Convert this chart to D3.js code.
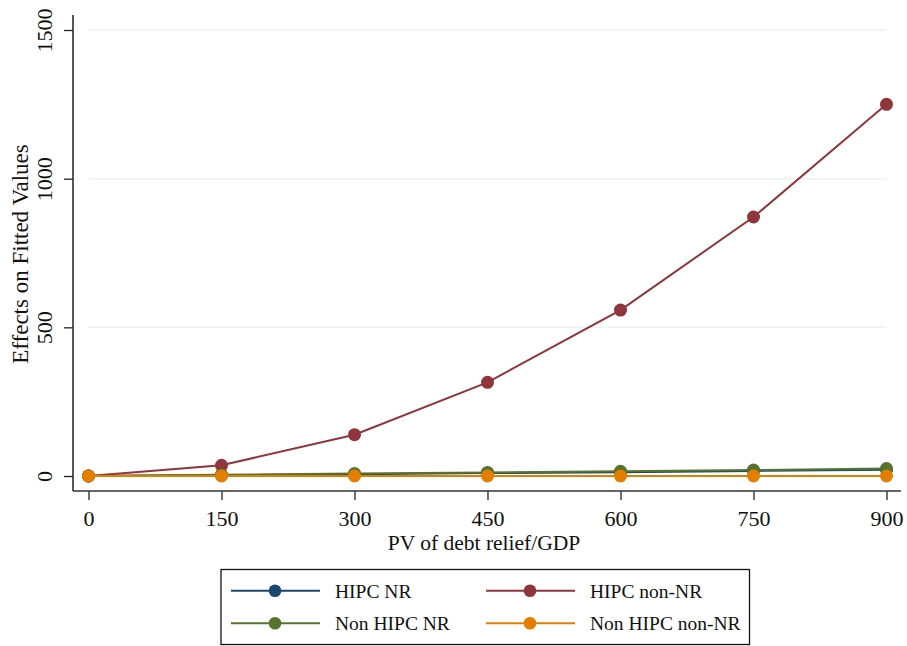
<!DOCTYPE html>
<html>
<head>
<meta charset="utf-8">
<script src="https://cdn.jsdelivr.net/npm/d3@7"></script>
<style>
  html, body { margin: 0; padding: 0; background: #fff; }
  svg { display: block; font-family: "Liberation Serif", "Times New Roman", serif; }
</style>
</head>
<body>
<svg id="chart" width="907" height="646"></svg>
<script>
// Debt relief levels on the horizontal axis
const reliefLevels = [0, 150, 300, 450, 600, 750, 900];
const xTickLabels = ["0", "150", "300", "450", "600", "750", "900"];
const yTickValues = [0, 500, 1000, 1500];
const yTickLabels = ["0", "500", "1000", "1500"];

// Effects on fitted values by country group
const hipcNR = [0, 3, 6, 10, 13, 17, 21];
const hipcNonNR = [0, 36, 139, 315, 558, 871, 1250];
const nonHipcNR = [0, 4, 8, 12, 16, 20, 25];
const nonHipcNonNR = [0, 0, 0, 0, 0, 0, 0];

const seriesNames = ["HIPC NR", "HIPC non-NR", "Non HIPC NR", "Non HIPC non-NR"];
const seriesValues = [hipcNR, hipcNonNR, nonHipcNR, nonHipcNonNR];
const seriesColors = ["#1a476f", "#90353b", "#55752f", "#e37e00"];

const svg = d3.select("#chart");

const x = d3.scaleLinear().domain([0, 900]).range([88.5, 886.5]);
const y = d3.scaleLinear().domain([0, 1500]).range([476, 30]);

// Plot region edges
const plotLeft = 73, plotRight = 901, plotTop = 15, plotBottom = 491;

// Horizontal gridlines
svg.append("g")
  .selectAll("line")
  .data(yTickValues)
  .join("line")
  .attr("x1", x(0)).attr("x2", x(900))
  .attr("y1", d => y(d)).attr("y2", d => y(d))
  .attr("stroke", "#eaf2f3")
  .attr("stroke-width", 1.5);

// Y axis
const yAxis = svg.append("g")
  .attr("transform", `translate(${plotLeft},0)`)
  .call(d3.axisLeft(y).tickValues(yTickValues)
    .tickFormat((d, i) => yTickLabels[i]).tickSize(9).tickPadding(0));
yAxis.select(".domain").remove();
yAxis.selectAll(".tick line").attr("stroke", "#222").attr("stroke-width", 1.3);
yAxis.selectAll(".tick text")
  .attr("x", null).attr("dy", null)
  .attr("transform", "translate(-21,0) rotate(-90)")
  .attr("text-anchor", "middle")
  .attr("font-size", 22)
  .attr("font-family", "Liberation Serif, serif")
  .attr("fill", "#111");
svg.append("line")
  .attr("x1", plotLeft).attr("x2", plotLeft)
  .attr("y1", plotTop).attr("y2", plotBottom)
  .attr("stroke", "#222").attr("stroke-width", 1.5);

// X axis
const xAxis = svg.append("g")
  .attr("transform", `translate(0,${plotBottom})`)
  .call(d3.axisBottom(x).tickValues(reliefLevels)
    .tickFormat((d, i) => xTickLabels[i]).tickSize(9).tickPadding(0));
xAxis.select(".domain").remove();
xAxis.selectAll(".tick line").attr("stroke", "#222").attr("stroke-width", 1.3);
xAxis.selectAll(".tick text")
  .attr("y", 35).attr("dy", null)
  .attr("font-size", 22)
  .attr("font-family", "Liberation Serif, serif")
  .attr("fill", "#111");
svg.append("line")
  .attr("x1", plotLeft).attr("x2", plotRight)
  .attr("y1", plotBottom).attr("y2", plotBottom)
  .attr("stroke", "#333").attr("stroke-width", 1.5);

// Axis titles
svg.append("text")
  .attr("transform", "translate(28,254) rotate(-90)")
  .attr("text-anchor", "middle")
  .attr("font-size", 23)
  .attr("fill", "#111")
  .text("Effects on Fitted Values");

svg.append("text")
  .attr("x", 484).attr("y", 550)
  .attr("text-anchor", "middle")
  .attr("font-size", 21.5)
  .attr("fill", "#111")
  .text("PV of debt relief/GDP");

// Series lines and markers
const line = d3.line().x((d, i) => x(reliefLevels[i])).y(d => y(d));
seriesValues.forEach((vals, s) => {
  const g = svg.append("g");
  g.append("path")
    .datum(vals)
    .attr("d", line)
    .attr("fill", "none")
    .attr("stroke", seriesColors[s])
    .attr("stroke-width", 2);
  g.selectAll("circle")
    .data(vals)
    .join("circle")
    .attr("cx", (d, i) => x(reliefLevels[i]))
    .attr("cy", d => y(d))
    .attr("r", 6.5)
    .attr("fill", seriesColors[s]);
});

// Legend
const legend = svg.append("g");
legend.append("rect")
  .attr("x", 221).attr("y", 569.5)
  .attr("width", 528.5).attr("height", 75)
  .attr("fill", "#fff").attr("stroke", "#111").attr("stroke-width", 1.3);

const legendCols = [231, 486];
const legendRows = [590.7, 623.3];
seriesNames.forEach((name, i) => {
  const lx = legendCols[i % 2];
  const ly = legendRows[Math.floor(i / 2)];
  legend.append("line")
    .attr("x1", lx).attr("x2", lx + 89)
    .attr("y1", ly).attr("y2", ly)
    .attr("stroke", seriesColors[i]).attr("stroke-width", 2);
  legend.append("circle")
    .attr("cx", lx + 44).attr("cy", ly).attr("r", 6.3)
    .attr("fill", seriesColors[i]);
  legend.append("text")
    .attr("x", lx + 104).attr("y", ly + 7)
    .attr("font-size", 19.5)
    .attr("fill", "#111")
    .text(name);
});
</script>
</body>
</html>
